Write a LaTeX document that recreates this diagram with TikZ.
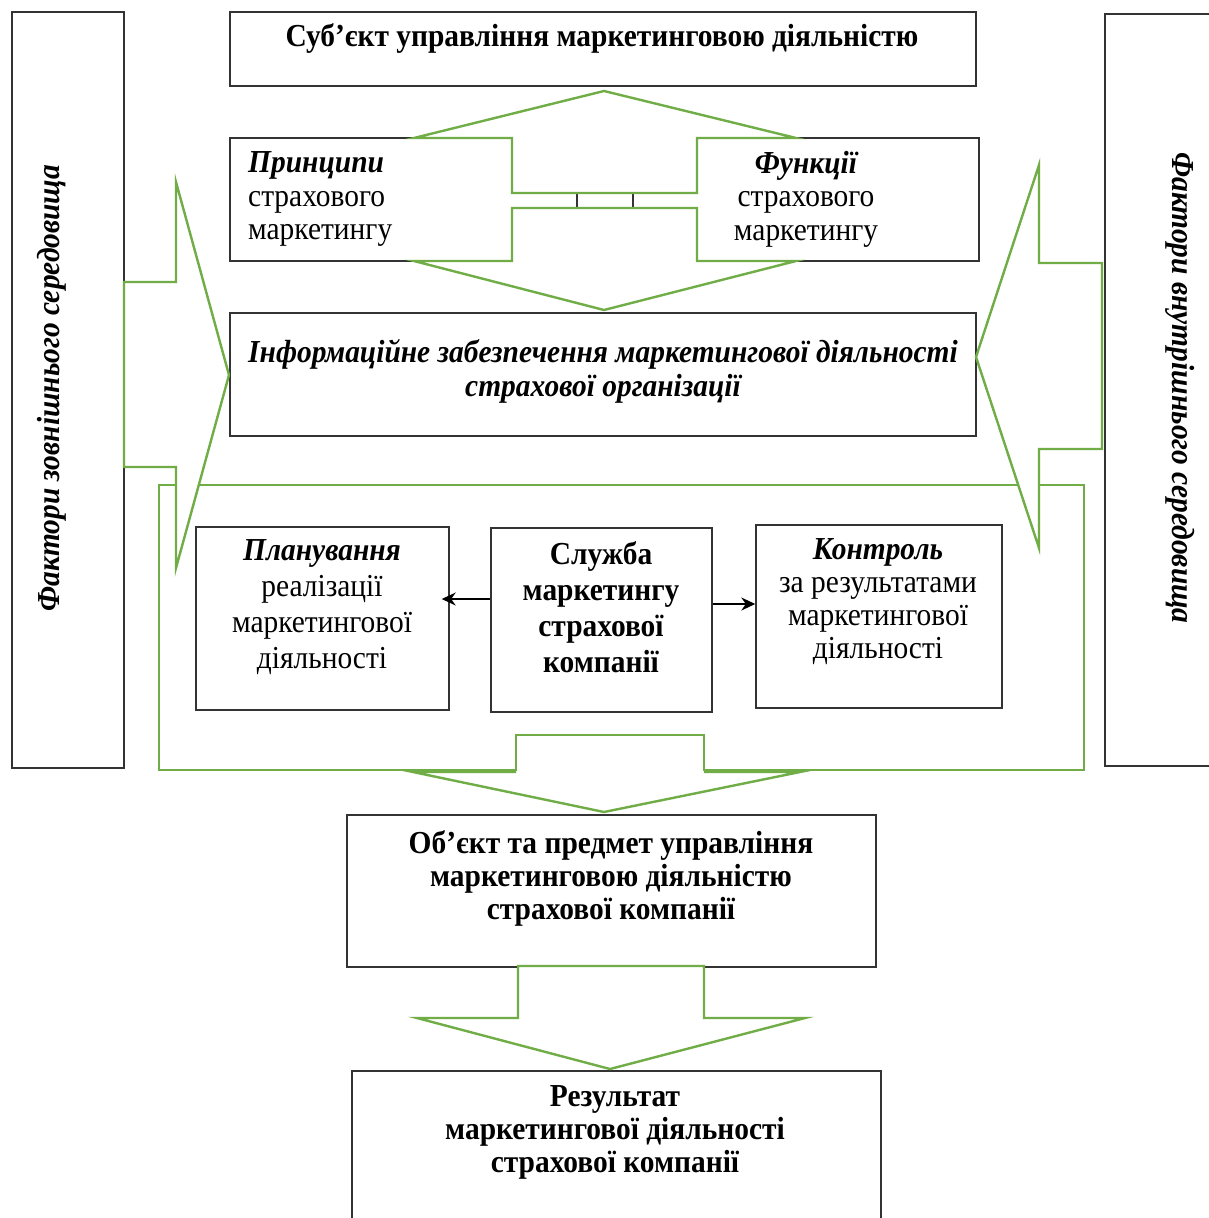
\documentclass[tikz,border=0pt]{standalone}
\usepackage{fontspec}
\setmainfont{Liberation Serif}[FakeStretch=0.92]
\usetikzlibrary{arrows.meta}
\definecolor{grn}{HTML}{70AD47}
\definecolor{bx}{HTML}{333333}
\tikzset{
  box/.style={draw=bx, line width=1.4pt, inner sep=0pt, rectangle},
  garr/.style={draw=grn, line width=2.4pt, fill=white, line join=miter},
  gline/.style={draw=grn, line width=2.4pt, line join=miter},
  txt/.style={font=\fontsize{32}{33.5}\selectfont, align=center, inner sep=0pt},
  txtw/.style={font=\fontsize{32}{36}\selectfont, align=center, inner sep=0pt},
  harrow/.style={draw=black, line width=1.5pt, -{Stealth[length=14pt,width=13pt]}}
}
\begin{document}
\begin{tikzpicture}[x=1pt,y=-1pt]
\useasboundingbox (0,0) rectangle (1209,1218);
\clip (0,0) rectangle (1209,1218);
\fill[white] (0,0) rectangle (1209,1218);
% boxes
\node[box, minimum width=112, minimum height=756] (ext) at (68,390) {};
\node[box, minimum width=110, minimum height=752] (int) at (1160,390) {};
\node[box, minimum width=746, minimum height=74] (subj) at (603,49) {};
\node[box, minimum width=347, minimum height=123] (princ) at (403.5,199.5) {};
\node[box, minimum width=346, minimum height=123] (func) at (806,199.5) {};
\node[box, minimum width=746, minimum height=123] (info) at (603,374.5) {};
% frame around the service block
\draw[garr] (159,485) -- (1084,485) -- (1084,770) -- (704,770) -- (704,735) -- (516,735) -- (516,770) -- (159,770) -- cycle;
\draw[gline] (516,772) -- (413,772) -- (604,812) -- (800,772) -- (704,772);
\node[box, minimum width=253, minimum height=183] (plan) at (322.5,618.5) {};
\node[box, minimum width=221, minimum height=184] (serv) at (601.5,620) {};
\node[box, minimum width=246, minimum height=183] (ctrl) at (879,616.5) {};
% side arrows
\draw[garr] (124,282) -- (176,282) -- (176,182) -- (229,375) -- (176,568) -- (176,467) -- (124,467) -- cycle;
\draw[garr] (1102,263) -- (1039,263) -- (1039,165) -- (976,357) -- (1039,548) -- (1039,449) -- (1102,449) -- cycle;
% up and down arrows between principles and functions
\draw[garr] (512,193) -- (697,193) -- (697,138) -- (796,138) -- (604,91) -- (414,138) -- (512,138) -- cycle;
\draw[garr] (512,208) -- (697,208) -- (697,261) -- (796,261) -- (604,310) -- (414,261) -- (512,261) -- cycle;
% lower boxes
\node[box, minimum width=529, minimum height=152] (obj) at (611.5,891) {};
\node[box, minimum width=529, minimum height=154] (res) at (616.5,1148) {};
\draw[garr] (518,966) -- (704,966) -- (704,1018) -- (805,1018) -- (610,1069) -- (417,1018) -- (518,1018) -- cycle;
% horizontal arrows
\draw[harrow] (serv.west |- 0,599) -- ([xshift=-8pt]plan.east |- 0,599);
\draw[harrow] (serv.east |- 0,604) -- (ctrl.west |- 0,604);
% texts
\node[txt, font=\fontsize{32}{34}\selectfont\bfseries] (tsubj) at (602,38) {Суб’єкт управління маркетинговою діяльністю};
\node[txt, align=left, anchor=west] (tprinc) at (248,199) {{\bfseries\itshape Принципи}\\страхового\\маркетингу};
\node[txt] (tfunc) at (806,199) {{\bfseries\itshape Функції}\\страхового\\маркетингу};
\node[txt, font=\fontsize{32}{34}\selectfont\bfseries\itshape] (tinfo) at (603,371) {Інформаційне забезпечення маркетингової діяльності\\страхової організації};
\node[txtw] (tplan) at (322,607) {{\bfseries\itshape Планування}\\реалізації\\маркетингової\\діяльності};
\node[txtw, font=\fontsize{32}{36}\selectfont\bfseries] (tserv) at (601,607) {Служба\\маркетингу\\страхової\\компанії};
\node[txt, font=\fontsize{32}{33}\selectfont] (tctrl) at (878,602) {{\bfseries\itshape Контроль}\\за результатами\\маркетингової\\діяльності};
\node[txt, font=\fontsize{32}{33}\selectfont\bfseries] (tobj) at (611,878) {Об’єкт та предмет управління\\маркетинговою діяльністю\\страхової компанії};
\node[txt, font=\fontsize{32}{33}\selectfont\bfseries] (tres) at (615,1132) {Результат\\маркетингової діяльності\\страхової компанії};
\node[txt, font=\fontsize{32}{34}\selectfont\bfseries\itshape, rotate=90] (text) at (52,388) {Фактори зовнішнього середовища};
\node[txt, font=\fontsize{32}{34}\selectfont\bfseries\itshape, rotate=-90] (tint) at (1180,388) {Фактори внутрішнього середовища};
\end{tikzpicture}
\end{document}
